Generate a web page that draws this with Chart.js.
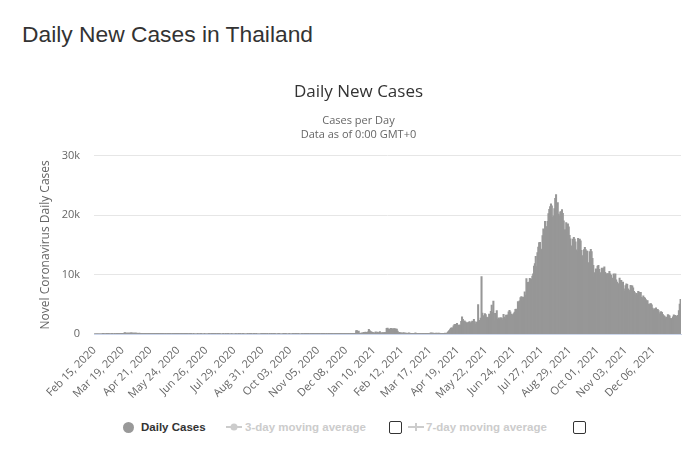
<!DOCTYPE html>
<html>
<head>
<meta charset="utf-8">
<script src="https://cdn.jsdelivr.net/npm/chart.js@4.4.0/dist/chart.umd.min.js"></script>
<style>
  body { margin: 0; background: #fff; width: 700px; height: 457px; overflow: hidden; position: relative; }
  #pageTitle { position: absolute; left: 22px; top: 23px; font: 22.8px/23px "Liberation Sans", Arial, sans-serif; color: #333; white-space: nowrap; }
  #chartBox { position: absolute; left: 0; top: 60px; width: 700px; height: 350px; }
  .lg { position: absolute; top: 418px; height: 18px; line-height: 18px; font: bold 11.5px/18px "Liberation Sans", Arial, sans-serif; white-space: nowrap; }
  .dot { position: absolute; top: 422px; width: 11px; height: 11px; border-radius: 50%; background: #999; }
  .box { position: absolute; top: 421px; width: 11px; height: 11px; border: 1px solid #333; border-radius: 2px; background: #fff; }
  .sym { position: absolute; top: 420px; }
</style>
</head>
<body>
<div id="pageTitle">Daily New Cases in Thailand</div>
<div id="chartBox"><canvas id="casesChart" width="700" height="350"></canvas></div>

<!-- legend (Highcharts style, with the two moving averages switched off) -->
<div class="dot" style="left:123px;"></div>
<div class="lg" style="left:141px; color:#333;">Daily Cases</div>
<svg class="sym" style="left:226px;" width="16" height="14"><line x1="0" y1="7" x2="16" y2="7" stroke="#ccc" stroke-width="2"/><circle cx="8" cy="7" r="3.5" fill="#ccc"/></svg>
<div class="lg" style="left:245px; color:#ccc;">3-day moving average</div>
<div class="box" style="left:389px;"></div>
<svg class="sym" style="left:408px;" width="16" height="14"><line x1="0" y1="7" x2="16" y2="7" stroke="#ccc" stroke-width="2"/><line x1="8" y1="3" x2="8" y2="11" stroke="#ccc" stroke-width="2"/></svg>
<div class="lg" style="left:426px; color:#ccc;">7-day moving average</div>
<div class="box" style="left:573px;"></div>

<script>
// first day of the series, one bar per day
const startDate = Date.UTC(2020, 1, 15);
const tickEvery = 33; // a date label every 33 days

// daily new cases, one line per month (Feb 15, 2020 -> Jan 07, 2022)
const dailyCases = [
  0,0,0,0,0,0,0,0,0,0,1,3,0,0,2,
  0,1,1,0,0,1,2,0,0,3,0,11,5,7,32,33,30,35,60,50,89,188,122,106,107,111,91,109,143,136,127,
  120,104,103,89,102,51,38,111,54,50,45,33,28,34,30,29,33,27,32,26,19,15,13,15,53,15,7,9,7,7,
  6,3,18,3,1,5,1,0,4,0,6,7,2,1,1,0,3,0,3,0,3,5,2,1,2,1,3,1,3,1,3,
  1,1,3,4,0,3,0,3,0,0,4,0,0,0,0,1,0,0,3,2,0,0,0,4,0,0,0,0,1,4,
  0,1,0,1,1,3,1,0,1,0,3,2,0,0,0,4,0,0,1,0,1,9,0,0,0,1,0,0,0,0,3,
  0,0,3,0,2,0,0,2,2,0,0,0,0,4,0,1,3,5,0,0,1,3,0,2,0,0,0,0,0,3,0,
  4,1,2,1,0,1,0,0,2,0,1,0,1,0,2,0,0,0,1,4,0,0,0,0,1,0,4,3,0,0,
  0,6,0,0,0,9,5,0,4,3,4,0,1,0,0,0,11,5,0,6,1,1,5,0,2,0,5,3,1,0,6,
  3,3,1,3,0,4,2,0,4,4,0,6,5,0,6,0,11,5,0,1,1,3,0,7,0,8,8,1,4,6,
  6,6,13,10,7,2,3,17,2,6,8,10,10,14,6,7,10,8,14,548,516,382,427,46,110,64,144,121,250,194,279,
  212,216,315,745,527,365,305,249,212,162,121,339,157,271,188,139,369,130,171,187,161,181,198,198,914,959,819,756,802,914,834,
  829,812,865,806,773,788,429,170,218,140,143,127,121,191,95,115,113,83,85,135,108,76,66,50,62,73,84,131,
  75,47,57,62,58,59,47,50,38,59,41,55,68,79,75,54,81,163,106,96,109,65,81,97,52,96,86,100,42,39,72,
  28,26,84,89,44,49,250,405,559,789,967,985,965,1335,1543,1582,1547,1767,1390,1443,1458,1470,2070,2839,2438,2048,2179,2012,1871,1583,
  1891,1940,2041,1763,1911,2112,2101,2419,2044,1630,1919,1983,4887,2052,2256,2636,9635,3481,2815,3052,3394,3226,2807,2718,2713,3323,2455,3759,4803,3582,5485,
  2230,3440,2742,3886,2419,2671,2419,2662,2680,2615,2290,3277,2804,2541,3129,2331,3174,3667,3943,3682,3309,3175,3174,3406,3644,4108,4161,3714,5406,4786,
  5533,6087,6230,5916,6166,5420,7058,6519,9276,8656,8463,8685,9317,9186,9186,9692,10082,11397,11784,13002,11305,13655,14575,15335,15376,14260,14150,16533,17669,17345,18912,
  18027,17970,18901,20200,20920,21379,21838,21511,19603,19843,21038,22782,23418,21882,22086,20128,19851,20515,20571,20902,20245,19014,17491,17492,18702,17984,18501,17974,16536,15972,14802,
  14666,15942,16225,15942,15452,14109,13821,16031,14403,15942,15629,14029,13166,12531,14172,14555,14176,13913,13887,11968,11786,13821,14189,13818,12697,11488,9489,10288,10919,10828,
  11375,11516,10815,9869,10291,11051,10919,11035,11271,10335,9445,10111,10064,10119,10486,10094,9811,9357,9180,10098,9734,10098,9062,8675,7706,8452,9357,9000,8968,8452,8675,
  7575,7183,8093,8384,8309,7574,7333,7059,8154,8069,8042,7740,7137,6943,6541,6812,6580,7117,7006,6904,6961,6122,6017,6396,6139,6005,5744,5533,5574,5000,
  4830,5010,5093,4856,4304,3977,4129,4222,4352,4118,4107,3875,3311,3538,3741,3595,3246,3062,2949,2539,2812,2777,3235,3124,2994,2580,2437,2575,2835,3164,3091,
  3112,2927,2580,3091,3899,4981,5775
];

// y axis ticks
const yTicks = [0, 10000, 20000, 30000];

// build the "Mon DD, YYYY" category labels
const monthNames = ['Jan','Feb','Mar','Apr','May','Jun','Jul','Aug','Sep','Oct','Nov','Dec'];
const dateLabels = dailyCases.map((_, i) => {
  const d = new Date(startDate + i * 86400000);
  const day = String(d.getUTCDate()).padStart(2, '0');
  return monthNames[d.getUTCMonth()] + ' ' + day + ', ' + d.getUTCFullYear();
});

const font = 'Open Sans';

const ctx = document.getElementById('casesChart').getContext('2d');
new Chart(ctx, {
  type: 'bar',
  data: {
    labels: dateLabels,
    datasets: [{
      label: 'Daily Cases',
      data: dailyCases,
      backgroundColor: '#979797',
      borderWidth: 0,
      barPercentage: 1,
      categoryPercentage: 1,
      inflateAmount: 0.6 // close the hairline gaps between sub-pixel bars
    }]
  },
  options: {
    responsive: false,
    animation: false,
    layout: { padding: { left: 36, right: 19, top: 0, bottom: 0 } },
    plugins: {
      legend: { display: false },
      tooltip: { enabled: false },
      title: {
        display: true,
        text: 'Daily New Cases',
        color: '#333',
        font: { family: font, size: 17, weight: 'normal', lineHeight: 1.2 },
        padding: { top: 22, bottom: 0 }
      },
      subtitle: {
        display: true,
        text: ['Cases per Day', 'Data as of 0:00 GMT+0'],
        color: '#666',
        font: { family: font, size: 11, lineHeight: 14 / 11 },
        padding: { top: 11.6, bottom: 13.7 }
      }
    },
    scales: {
      x: {
        grid: { display: false },
        border: { display: true, color: '#ccd6eb' },
        ticks: {
          autoSkip: false,
          minRotation: 45,
          maxRotation: 45,
          padding: 2,
          color: '#666',
          font: { family: font, size: 11 },
          callback: function (val, i) {
            return i % tickEvery === 0 ? this.getLabelForValue(val) : null;
          }
        },
        afterFit: (scale) => { scale.height = 76; }
      },
      y: {
        min: 0,
        max: 30000,
        afterBuildTicks: (scale) => { scale.ticks = yTicks.map(v => ({ value: v })); },
        ticks: {
          padding: 14,
          color: '#666',
          font: { family: font, size: 11 },
          callback: (v) => v === 0 ? '0' : (v / 1000) + 'k'
        },
        grid: {
          drawTicks: false,
          color: (c) => (c.tick && c.tick.value === 0) ? '#ccd6eb' : '#e6e6e6'
        },
        border: { display: false },
        title: {
          display: true,
          text: 'Novel Coronavirus Daily Cases',
          color: '#666',
          font: { family: font, size: 12 },
          padding: { top: 2, bottom: 0 }
        },
        afterFit: (scale) => { scale.width = 58; }
      }
    }
  }
});
</script>
</body>
</html>
